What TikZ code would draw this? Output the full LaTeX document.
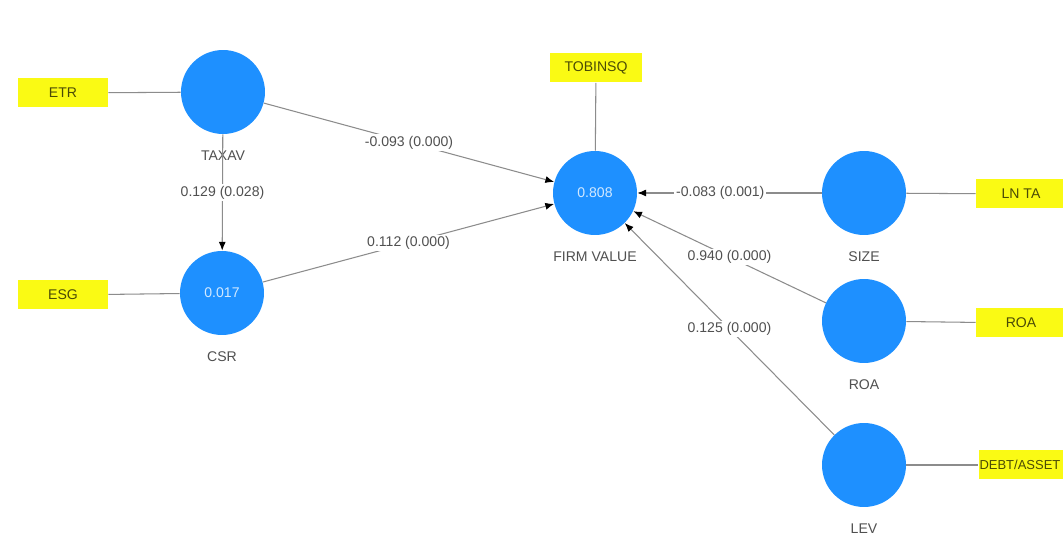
\documentclass[tikz,border=0pt]{standalone}
\usepackage{fontspec}
\setmainfont{Liberation Sans}
\usetikzlibrary{arrows.meta}
\definecolor{plsblue}{RGB}{30,144,255}
\definecolor{plsyellow}{RGB}{250,250,20}
\definecolor{plsline}{RGB}{140,140,140}
\definecolor{plstext}{RGB}{80,80,80}
\tikzset{
  construct/.style={circle, fill=plsblue, minimum size=1.68cm, inner sep=0pt,
    text=white!80!plsblue, font=\fontsize{8}{9}\selectfont},
  name below/.style={label={[text=plstext, font=\fontsize{8}{9}\selectfont, label distance=0.2cm]below:#1}},
  indicator/.style={rectangle, fill=plsyellow, minimum width=1.8cm, minimum height=0.58cm,
    inner sep=0pt, text=black!70!plsyellow, font=\fontsize{8}{9}\selectfont},
  link/.style={draw=plsline, line width=0.6pt},
  path/.style={link, -{Latex[length=5pt,width=4pt,color=black]}},
  coef/.style={fill=white, inner sep=1pt, text=plstext, font=\fontsize{8}{9}\selectfont}
}
\begin{document}
\begin{tikzpicture}[x=0.02cm, y=-0.02cm]
		%%%%% START %%%%%
		\useasboundingbox[fill=white] (0, 0) rectangle (1063, 536);
		
		% constructs
		\node[construct, name below=TAXAV] (taxav) at (223, 92) {};
		\node[construct, name below=CSR] (csr) at (222, 293) {0.017};
		\node[construct, name below=FIRM VALUE] (firm) at (595, 193) {0.808};
		\node[construct, name below=SIZE] (size) at (864, 193) {};
		\node[construct, name below=ROA] (roa) at (864, 321) {};
		\node[construct, name below=LEV] (lev) at (864, 465) {};
		
		% indicators
		\node[indicator] (etr) at (63, 93) {ETR};
		\node[indicator] (esg) at (63, 295) {ESG};
		\node[indicator, minimum width=1.84cm] (tobin) at (596, 68) {TOBINSQ};
		\node[indicator] (lnta) at (1021, 194) {LN TA};
		\node[indicator] (roaind) at (1021, 323) {ROA};
		\node[indicator, minimum width=1.7cm, text width=1.66cm, align=left,
		  font=\fontsize{7.4}{9}\selectfont] (debt) at (1021, 465) {DEBT/ASSET};
		
		% outer model
		\draw[link] (etr) -- (taxav);
		\draw[link] (esg) -- (csr);
		\draw[link] (tobin) -- (firm);
		\draw[link] (size) -- (lnta);
		\draw[link] (roa) -- (roaind);
		\draw[link] (lev) -- (debt);
		
		% inner model
		\draw[path] (taxav) -- node[coef] {0.129 (0.028)} (csr);
		\draw[path] (taxav) -- node[coef] {-0.093 (0.000)} (firm);
		\draw[path] (csr) -- node[coef] {0.112 (0.000)} (firm);
		\draw[path] (size) -- node[coef, pos=0.55] {-0.083 (0.001)} (firm);
		\draw[path] (roa) -- node[coef] {0.940 (0.000)} (firm);
		\draw[path] (lev) -- node[coef] {0.125 (0.000)} (firm);
		%%%%% END %%%%%
	\end{tikzpicture}
\end{document}
